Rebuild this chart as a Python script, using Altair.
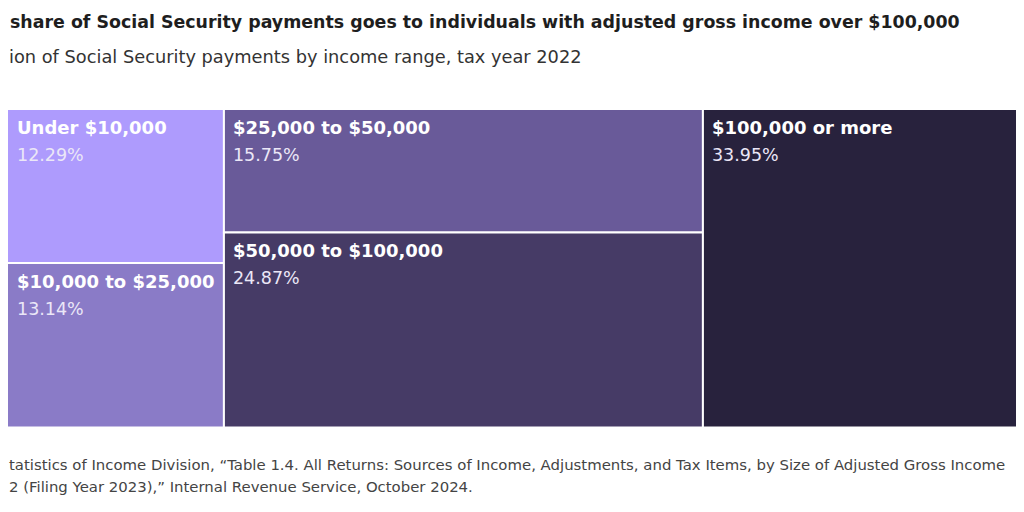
import altair as alt
import pandas as pd

# ---- data ----
categories = ["Under $10,000", "$10,000 to $25,000", "$25,000 to $50,000",
              "$50,000 to $100,000", "$100,000 or more"]
shares = [12.29, 13.14, 15.75, 24.87, 33.95]
columns = [0, 0, 1, 1, 2]
colors = ["#ae9bfd", "#8a7bc7", "#695a99", "#463b66", "#28223d"]

# texts as they appear in the (cropped) reference
title_text = ("share of Social Security payments goes to individuals "
              "with adjusted gross income over $100,000")
subtitle_text = "ion of Social Security payments by income range, tax year 2022"
source_line1 = ("tatistics of Income Division, \u201cTable 1.4. All Returns: Sources of Income, "
                "Adjustments, and Tax Items, by Size of Adjusted Gross Income")
source_line2 = "2 (Filing Year 2023),\u201d Internal Revenue Service, October 2024."

# visible window of the cumulative-share axis (the reference is a crop)
view_domain = [7.12, 92.6]

# ---- treemap layout (slice-and-dice by column) ----
df = pd.DataFrame({"cat": categories, "share": shares, "col": columns})
col_tot = df.groupby("col")["share"].transform("sum")
totals = df.groupby("col")["share"].sum()
col_x0 = totals.cumsum() - totals
df["x0"] = df["col"].map(col_x0)
df["x1"] = df["x0"] + col_tot
cum = df.groupby("col")["share"].cumsum()
df["y0"] = (cum - df["share"]) / col_tot
df["y1"] = cum / col_tot
df["pct"] = df["share"].map(lambda v: f"{v:.2f}%")
df["lx"] = df["x0"].clip(lower=view_domain[0])

xs = alt.Scale(domain=view_domain)
ys = alt.Scale(domain=[0, 1], range=[101, 419.5])
cs = alt.Scale(domain=categories, range=colors)

base = alt.Chart(df)

rects = base.mark_rect(stroke="white", strokeWidth=2, clip=True).encode(
    x=alt.X("x0:Q", scale=xs, axis=None),
    x2="x1",
    y=alt.Y("y0:Q", scale=ys, axis=None),
    y2="y1",
    color=alt.Color("cat:N", scale=cs, legend=None),
)

labels = base.mark_text(align="left", baseline="alphabetic", dx=9, dy=25,
                        font="DejaVu Sans", fontWeight="bold", fontSize=18,
                        color="white").encode(
    x=alt.X("lx:Q", scale=xs, axis=None),
    y=alt.Y("y0:Q", scale=ys, axis=None),
    text="cat:N",
)

pcts = base.mark_text(align="left", baseline="alphabetic", dx=9, dy=52,
                      font="DejaVu Sans", fontSize=17.5,
                      color="#ebe7f7").encode(
    x=alt.X("lx:Q", scale=xs, axis=None),
    y=alt.Y("y0:Q", scale=ys, axis=None),
    text="pct:N",
)


def text_layer(txt, x, y, align, size, weight, color):
    return alt.Chart(pd.DataFrame({"t": [txt]})).mark_text(
        align=align, baseline="alphabetic", font="DejaVu Sans",
        fontSize=size, fontWeight=weight, color=color,
    ).encode(x=alt.value(x), y=alt.value(y), text="t:N")


title = text_layer(title_text, 2, 19.7, "left", 17.4, "bold", "#1e1e1e")
subtitle = text_layer(subtitle_text, 1, 55.3, "left", 17.8, "normal", "#333333")
src1 = text_layer(source_line1, 1, 461.5, "left", 14.9, "normal", "#444444")
src2 = text_layer(source_line2, 1, 483.7, "left", 14.9, "normal", "#444444")

chart = alt.layer(rects, labels, pcts, title, subtitle, src1, src2).properties(
    width=1008, height=496,
    autosize=alt.AutoSizeParams(type="none"),
    padding=0,
).configure_view(stroke=None)

chart.save("out.html", embed_options={"renderer": "svg", "actions": False})
